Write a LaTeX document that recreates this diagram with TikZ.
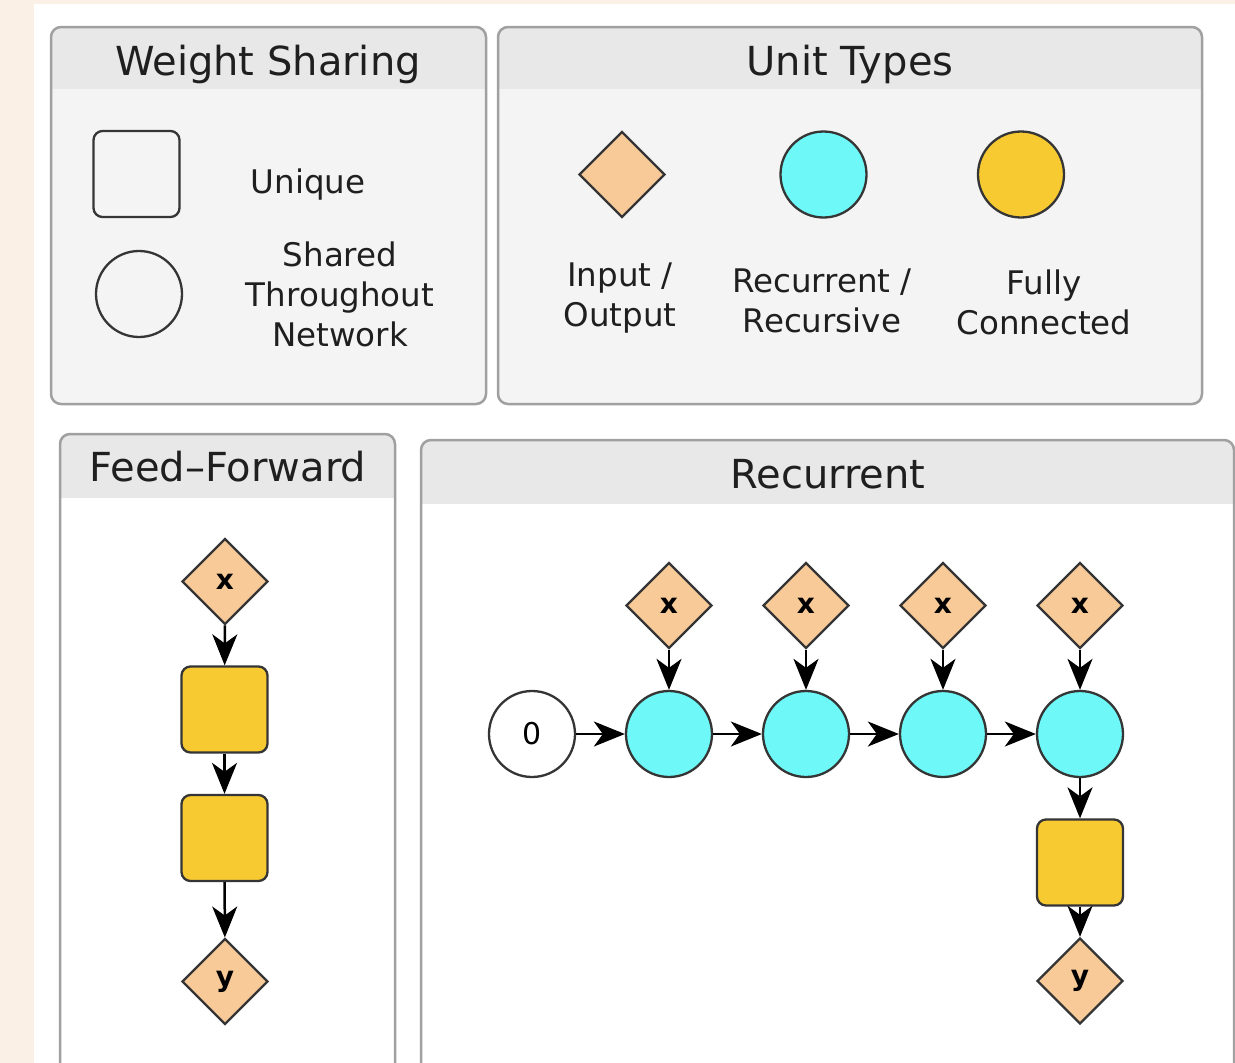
\documentclass[tikz,border=0pt]{standalone}
\usepackage{fontspec}
\setmainfont{DejaVu Sans}
\usetikzlibrary{arrows.meta,shapes.geometric}

\definecolor{paper}{HTML}{FAF0E5}
\definecolor{hdrgray}{HTML}{E8E8E8}
\definecolor{bodygray}{HTML}{F4F4F4}
\definecolor{frame}{HTML}{A0A0A0}
\definecolor{edge}{HTML}{353535}
\definecolor{ioclr}{HTML}{F8CA98}
\definecolor{rnnclr}{HTML}{6EF8F8}
\definecolor{fcclr}{HTML}{F8CA32}

% #1,#2 top left, #3,#4 bottom right, #5 header bottom, #6 body fill
\newcommand\drawpanel[6]{%
  \fill[#6, rounded corners=10pt] (#1,#2) rectangle (#3,#4);
  \begin{scope}
    \clip (#1,#2) rectangle (#3,#5);
    \fill[hdrgray, rounded corners=10pt] (#1,#2) rectangle (#3,#4);
  \end{scope}
  \draw[panelframe] (#1,#2) rectangle (#3,#4);
}

\tikzset{
  panelframe/.style={draw=frame, line width=2.5pt, rounded corners=10pt},
  paneltitle/.style={anchor=base, font=\fontsize{40}{48}\selectfont, text=black!88},
  keylabel/.style={align=center, font=\fontsize{32.5}{40}\selectfont, text=black!88},
  unit/.style={draw=edge, line width=2.3pt, minimum size=86pt, inner sep=0pt,
    font=\fontsize{28}{32}\selectfont\bfseries},
  iounit/.style={unit, diamond, fill=ioclr},
  rnnunit/.style={unit, circle, fill=rnnclr},
  fcunit/.style={unit, rectangle, rounded corners=9pt, fill=fcclr},
  flow/.style={-{Stealth[length=31pt,width=25pt,inset=9pt]}, line width=2.5pt, black},
}

\begin{document}
\begin{tikzpicture}[x=1pt, y=-1pt]
			%%%%% START %%%%%
			
			\clip (0,0) rectangle (1235,1063);
			\fill[paper] (0,0) rectangle (1235,1063);
			\fill[white] (34,4) rectangle (1235,1063);
			
			\drawpanel{51}{27}{486}{404}{88}{bodygray}
			\drawpanel{498}{27}{1202}{404}{88}{bodygray}
			\drawpanel{60}{434}{395}{1090}{497}{white}
			\drawpanel{421}{440}{1234}{1090}{503}{white}
			
			% weight sharing key
			\node[paneltitle] (wstitle) at (268,75) {Weight Sharing};
			\node[unit, rectangle, rounded corners=9pt, fill=bodygray] (uniquekey) at (136.5,174) {};
			\node[unit, circle, fill=bodygray] (sharedkey) at (139,294) {};
			\node[keylabel, anchor=base] (uniquelbl) at (308,193) {Unique};
			\node[keylabel] (sharedlbl) at (340,294.7) {Shared\\Throughout\\Network};
			
			% unit types key
			\node[paneltitle] (uttitle) at (850,75) {Unit Types};
			\node[iounit] (iokey) at (622,174.5) {};
			\node[rnnunit] (rnnkey) at (823.5,174.5) {};
			\node[unit, circle, fill=fcclr] (fckey) at (1021,174.5) {};
			\node[keylabel] (iolbl) at (620,298.5) {Input /\\Output};
			\node[keylabel] (rnnlbl) at (822,300.7) {Recurrent /\\Recursive};
			\node[keylabel] (fclbl) at (1044,302.6) {Fully\\Connected};
			
			% feed-forward
			\node[paneltitle] (fftitle) at (228,481) {Feed–Forward};
			\node[iounit] (ffx) at (225,581.5) {x};
			\node[fcunit] (ffh1) at (224.5,709.5) {};
			\node[fcunit] (ffh2) at (224.5,838) {};
			\node[iounit] (ffy) at (225,981.5) {y};
			
			\draw[flow] (ffx) -- (ffh1);
			\draw[flow] (ffh1) -- (ffh2);
			\draw[flow] (ffh2) -- (ffy);
			
			% recurrent
			\node[paneltitle] (rectitle) at (828,488) {Recurrent};
			\node[unit, circle, fill=white, font=\fontsize{30}{34}\selectfont] (h0) at (532,734) {0};
			\node[rnnunit] (h1) at (669,734) {};
			\node[rnnunit] (h2) at (806,734) {};
			\node[rnnunit] (h3) at (943,734) {};
			\node[rnnunit] (h4) at (1080,734) {};
			\node[iounit] (x1) at (669,605.5) {x};
			\node[iounit] (x2) at (806,605.5) {x};
			\node[iounit] (x3) at (943,605.5) {x};
			\node[iounit] (x4) at (1080,605.5) {x};
			\node[fcunit] (rech) at (1080,862.5) {};
			\node[iounit] (recy) at (1080,981) {y};
			
			\draw[flow] (x1) -- (h1);
			\draw[flow] (x2) -- (h2);
			\draw[flow] (x3) -- (h3);
			\draw[flow] (x4) -- (h4);
			\draw[flow] (h0) -- (h1);
			\draw[flow] (h1) -- (h2);
			\draw[flow] (h2) -- (h3);
			\draw[flow] (h3) -- (h4);
			\draw[flow] (h4) -- (rech);
			\draw[flow] (rech) -- (recy);
			
			%%%%% END %%%%%
\end{tikzpicture}
\end{document}
